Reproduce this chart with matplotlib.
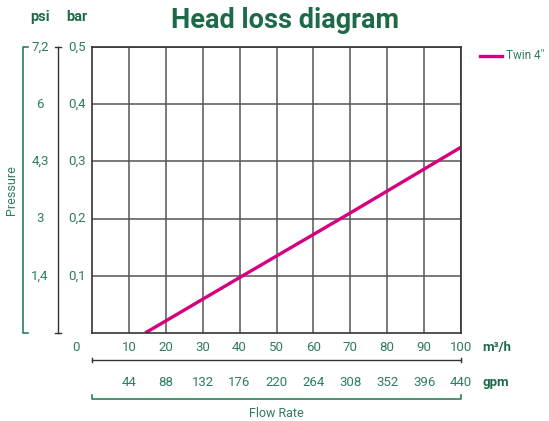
import matplotlib.pyplot as plt

plt.rcParams['font.family'] = ['Roboto', 'DejaVu Sans']

# data
flow_m3h = [14.4, 40, 70, 100]
loss_bar = [0.0, 0.097, 0.21, 0.325]
m3h_ticks = [10, 20, 30, 40, 50, 60, 70, 80, 90, 100]
gpm_labels = ["44", "88", "132", "176", "220", "264", "308", "352", "396", "440"]
bar_ticks = [0.1, 0.2, 0.3, 0.4, 0.5]
bar_labels = ["0,1", "0,2", "0,3", "0,4", "0,5"]
psi_labels = ["1,4", "3", "4,3", "6", "7,2"]

green = "#2e7d5b"
dark_green = "#1c6a47"
magenta = "#d4007f"

fig = plt.figure(figsize=(5.49, 4.21), dpi=100)
ax = fig.add_axes([0.1676, 0.209, 0.6721, 0.679])

ax.plot(flow_m3h, loss_bar, color=magenta, lw=2.4, solid_capstyle='butt')
ax.set_xlim(0, 100)
ax.set_ylim(0, 0.5)
ax.set_xticks(m3h_ticks)
ax.set_yticks(bar_ticks)
ax.grid(True, color="#555555", lw=1.1)
ax.tick_params(length=0, labelbottom=False, labelleft=False)
for s in ax.spines.values():
    s.set_color("#333333")
    s.set_linewidth(1.2)

fs = 9.5
# left scales
for y, bl, pl in zip(bar_ticks, bar_labels, psi_labels):
    ax.text(-4.1, y, bl, ha='center', va='center', color=green, fontsize=fs, clip_on=False)
    ax.text(-14.1, y, pl, ha='center', va='center', color=green, fontsize=fs, clip_on=False)
ax.text(-4.1, 0.552, "bar", ha='center', va='center', color=dark_green, fontsize=fs + 1,
        fontweight='bold', clip_on=False)
ax.text(-14.1, 0.552, "psi", ha='center', va='center', color=dark_green, fontsize=fs + 1,
        fontweight='bold', clip_on=False)

# bar axis line
ax.plot([-9.2, -9.2], [0, 0.5], color="#333333", lw=1, clip_on=False)
ax.plot([-10.0, -8.4], [0.5, 0.5], color="#333333", lw=1, clip_on=False)
ax.plot([-10.0, -8.4], [0, 0], color="#333333", lw=1, clip_on=False)

# pressure bracket
ax.plot([-17.4, -18.7, -18.7, -17.4], [0.5, 0.5, 0, 0], color=green, lw=1.2, clip_on=False)
ax.text(-21.7, 0.25, "Pressure", rotation=90, ha='center', va='center', color=green,
        fontsize=fs - 0.5, clip_on=False)

# bottom scales
for x, g in zip(m3h_ticks, gpm_labels):
    ax.text(x, -0.0245, str(x), ha='center', va='center', color=green, fontsize=fs, clip_on=False)
    ax.text(x, -0.0857, g, ha='center', va='center', color=green, fontsize=fs, clip_on=False)
ax.text(-4.4, -0.0245, "0", ha='center', va='center', color=green, fontsize=fs, clip_on=False)
ax.text(105.8, -0.0245, "m³/h", ha='left', va='center', color=dark_green, fontsize=fs,
        fontweight='bold', clip_on=False)
ax.text(105.8, -0.0857, "gpm", ha='left', va='center', color=dark_green, fontsize=fs,
        fontweight='bold', clip_on=False)

ax.plot([0, 100], [-0.047, -0.047], color="#333333", lw=1, clip_on=False)
ax.plot([0, 0], [-0.043, -0.051], color="#333333", lw=1, clip_on=False)
ax.plot([100, 100], [-0.043, -0.051], color="#333333", lw=1, clip_on=False)

ax.plot([0, 0, 100, 100], [-0.109, -0.115, -0.115, -0.109], color=green, lw=1.2, clip_on=False)
ax.text(50, -0.141, "Flow Rate", ha='center', va='center', color=green, fontsize=fs - 0.5,
        clip_on=False)

# legend
ax.plot([105.1, 111.1], [0.485, 0.485], color=magenta, lw=2.4, clip_on=False)
ax.text(112.3, 0.485, "Twin 4\u2033", ha='left', va='center', color=green, fontsize=8.5,
        clip_on=False)

fig.text(0.519, 0.952, "Head loss diagram", ha='center', va='center', color=dark_green,
         fontsize=19.5, fontweight='bold')

fig.savefig("out.png", dpi=100)
